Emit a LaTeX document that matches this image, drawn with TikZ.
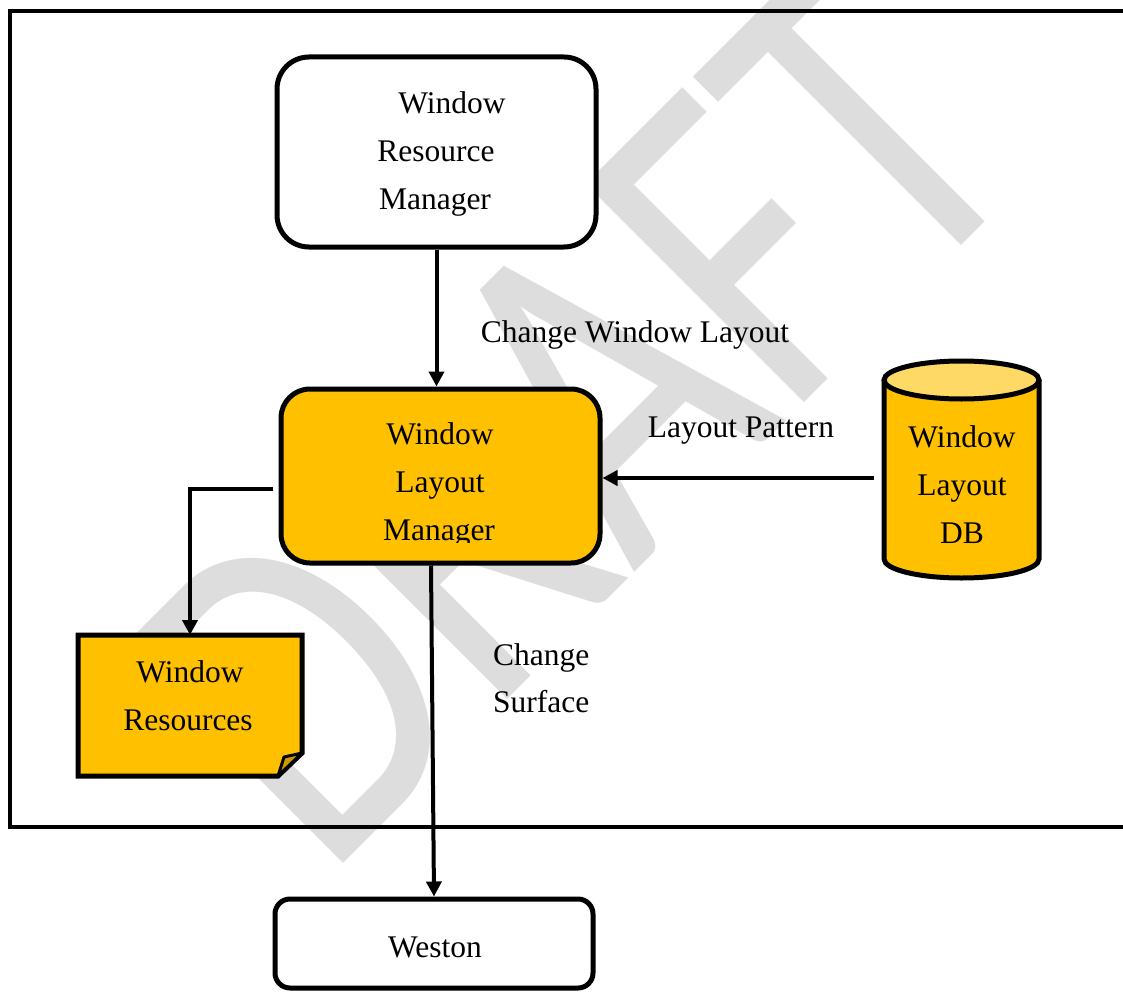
\documentclass[tikz,border=0pt]{standalone}
\usepackage{fontspec}
\usepackage{graphicx}
\setmainfont{Liberation Serif}
\newfontfamily\wmfont{Carlito}
\usetikzlibrary{arrows.meta,calc}
\definecolor{gold}{HTML}{FFC000}
\definecolor{lightgold}{HTML}{FFD966}
\definecolor{foldgold}{HTML}{CC9A00}
\definecolor{wmgray}{RGB}{221,221,221}
\begin{document}
\begin{tikzpicture}[x=1pt,y=-1pt,
  rbox/.style={draw, line width=5pt, rounded corners=#1, inner sep=0pt},
  ghost/.style={inner sep=0pt, outer sep=0pt},
  lbl/.style={font=\fontsize{31.5}{48}\selectfont, inner sep=0pt, anchor=base},
  arr/.style={line width=4pt, -{Triangle[length=15pt,width=15pt]}}]
\useasboundingbox (0,0) rectangle (1123,992);
\clip (0,0) rectangle (1123,992);
% watermark
\node[anchor=base west, inner sep=0pt, rotate=45, text=wmgray] (wm) at (325,882)
  {\scalebox{1}[1.28]{\wmfont\fontsize{376}{400}\selectfont DRAFT}};
% outer frame
\draw[line width=4.5pt] (10,11) rectangle (1140,827);
% Window Resource Manager
\node[rbox=32pt, fill=white, minimum width=319pt, minimum height=190pt] (wrm) at (436.5,152) {};
\node[lbl] (t1) at (452,114) {Window};
\node[lbl] (t2) at (436,162) {Resource};
\node[lbl] (t3) at (435,210) {Manager};
% Window Layout Manager
\node[rbox=29pt, fill=gold, minimum width=319pt, minimum height=174pt] (wlm) at (440.5,476) {};
\node[lbl] (t4) at (440,444) {Window};
\node[lbl] (t5) at (440,492) {Layout};
\begin{scope}
\clip (281,389) rectangle (600,542);
\node[lbl] (t6) at (439,540) {Manager};
\end{scope}
% Window Layout DB (cylinder)
\node[ghost, minimum width=155pt, minimum height=217pt] (db) at (961.5,469.5) {};
\path[fill=gold, draw, line width=5pt] (884,380) -- (884,559)
  arc[start angle=180, end angle=0, x radius=77.5, y radius=19] -- (1039,380);
\draw[fill=lightgold, line width=5pt] (961.5,380) ellipse[x radius=77.5, y radius=19];
\node[lbl] (t7) at (962,447) {Window};
\node[lbl] (t8) at (962,495) {Layout};
\node[lbl] (t9) at (962,543) {DB};
% Window Resources (folded corner)
\node[ghost, minimum width=224pt, minimum height=141pt] (wr) at (190,705.5) {};
\draw[fill=gold, line width=5pt] (wr.north west) -- (wr.north east)
  -- ($(wr.south east)+(0,-23)$) -- ($(wr.south east)+(-24,0)$) -- (wr.south west) -- cycle;
\draw[fill=foldgold, line width=3pt, line join=round] ($(wr.south east)+(0,-23)$)
  -- ($(wr.south east)+(-18,-19)$) -- ($(wr.south east)+(-24,0)$) -- cycle;
\node[lbl] (t10) at (190,682) {Window};
\node[lbl] (t11) at (188,730) {Resources};
% Weston
\node[rbox=15pt, fill=white, minimum width=318pt, minimum height=89pt] (weston) at (434,943.5) {};
\node[lbl] (t12) at (435,957) {Weston};
% connectors
\draw[arr] (wrm.south) -- (wrm.south |- wlm.north);
\coordinate (dbout) at ($(db.west)+(-10,8.5)$);
\draw[arr] (dbout) -- (wlm.east |- dbout);
\coordinate (wlmout) at ($(wlm.west)+(-5.5,13)$);
\draw[arr] (wlmout) -| (wr.north);
\draw[arr] ($(wlm.south)+(-9.5,0)$) -- (weston.north);
% labels
\node[lbl] (l1) at (635,342) {Change Window Layout};
\node[lbl] (l2) at (741,437) {Layout Pattern};
\node[lbl, anchor=base west] (l3) at (493,665) {Change};
\node[lbl, anchor=base west] (l4) at (493,712) {Surface};
\end{tikzpicture}
\end{document}
